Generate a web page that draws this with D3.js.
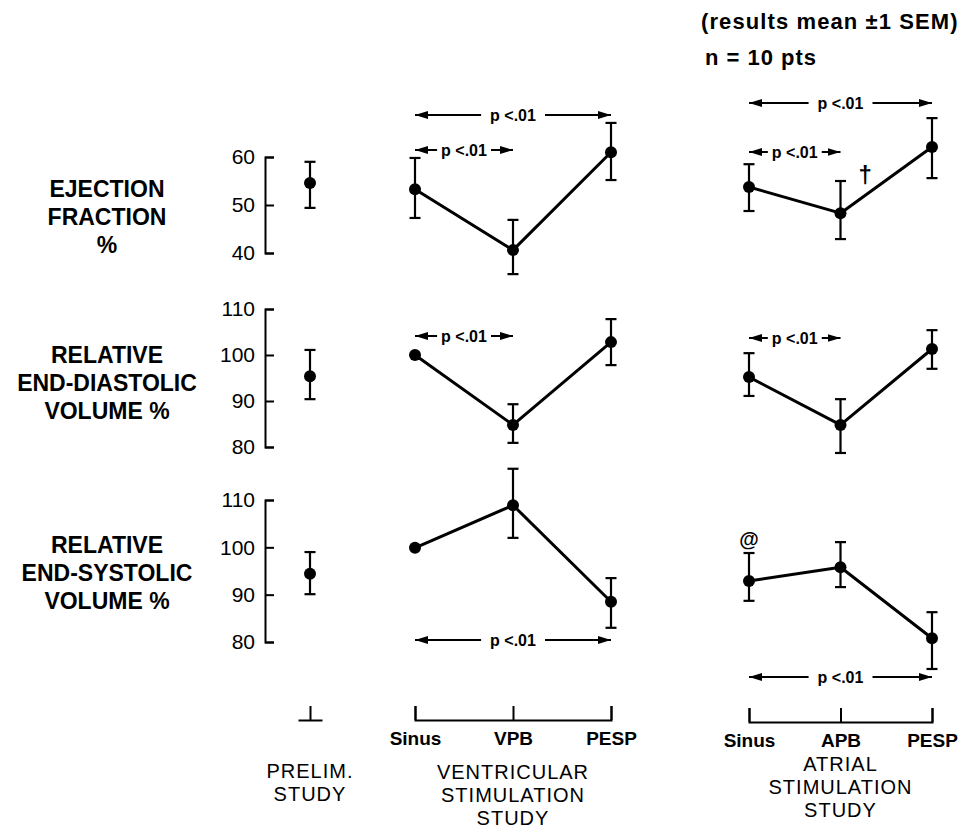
<!DOCTYPE html>
<html>
<head>
<meta charset="utf-8">
<script src="https://cdn.jsdelivr.net/npm/d3@7"></script>
<style>
body { margin: 0; background: #fff; }
svg { display: block; font-family: "Liberation Sans", Arial, sans-serif; }
</style>
</head>
<body>
<div id="chart"></div>
<script>
// values: mean and the two ends of the +-1 SEM bar
const rowLabels = [["EJECTION", "FRACTION", "%"], ["RELATIVE", "END-DIASTOLIC", "VOLUME %"], ["RELATIVE", "END-SYSTOLIC", "VOLUME %"]];
const rowTicks = [[40, 50, 60], [80, 90, 100, 110], [80, 90, 100, 110]];

const prelimMean = [54.6, 95.4, 94.4];
const prelimLow = [49.4, 90.4, 90.1];
const prelimHigh = [59.0, 101.1, 99.0];

const ventCats = ["Sinus", "VPB", "PESP"];
const ventMean = [[53.3, 40.6, 61.0], [100.0, 84.8, 102.8], [99.9, 108.9, 88.5]];
const ventLow = [[47.3, 35.6, 55.2], [null, 80.9, 97.8], [null, 102.0, 83.0]];
const ventHigh = [[59.8, 46.9, 67.1], [null, 89.3, 107.8], [null, 116.6, 93.5]];

const atrCats = ["Sinus", "APB", "PESP"];
const atrMean = [[53.75, 48.3, 62.1], [95.2, 84.8, 101.3], [92.9, 95.8, 80.8]];
const atrLow = [[48.75, 42.9, 55.6], [91.1, 78.7, 97.0], [88.7, 91.6, 74.3]];
const atrHigh = [[58.5, 55.0, 68.1], [100.4, 90.4, 105.4], [98.8, 101.1, 86.3]];

// significance arrows: [row, from, to]
const ventSig = [[0, "Sinus", "PESP"], [0, "Sinus", "VPB"], [1, "Sinus", "VPB"], [2, "Sinus", "PESP"]];
const atrSig = [[0, "Sinus", "PESP"], [0, "Sinus", "APB"], [1, "Sinus", "APB"], [2, "Sinus", "PESP"]];

// layout
const width = 963, height = 829;
const axisX = 265;
const rowDomain = [[40, 60], [80, 110], [80, 110]];
const rowRange = [[253, 157], [447, 309], [642, 500]];
const labelTop = [197, 363, 553];
const ventSigY = [115, 150, 336, 640];
const atrSigY = [103, 152, 338, 677];

let svg = d3.select("#chart")
    .append("svg")
    .attr("width", width)
    .attr("height", height);

// arrow head marker
svg.append("defs").append("marker")
    .attr("id", "head")
    .attr("viewBox", "0 0 13 8")
    .attr("refX", 13).attr("refY", 4)
    .attr("markerWidth", 13).attr("markerHeight", 8)
    .attr("markerUnits", "userSpaceOnUse")
    .attr("orient", "auto-start-reverse")
    .append("path").attr("d", "M0,0L13,4L0,8Z").attr("fill", "#000");

let yScales = rowDomain.map((d, i) => d3.scaleLinear().domain(d).range(rowRange[i]));

let xPrelim = d3.scalePoint().domain(["Prelim"]).range([298, 322]);
let xVent = d3.scalePoint().domain(ventCats).range([415, 611]);
let xAtr = d3.scalePoint().domain(atrCats).range([749, 932]);

// row titles on the left
rowLabels.forEach(function(lines, r) {
    let t = svg.append("text")
        .attr("text-anchor", "middle")
        .attr("font-size", 23)
        .attr("font-weight", "bold");
    lines.forEach(function(s, i) {
        t.append("tspan").attr("x", 107).attr("y", labelTop[r] + i * 28).text(s);
    });
});

// y axes
rowTicks.forEach(function(ticks, r) {
    let g = svg.append("g")
        .attr("transform", `translate(${axisX},0)`)
        .call(d3.axisLeft(yScales[r]).tickValues(ticks).tickSize(-9).tickPadding(10).tickFormat(d3.format("d")));
    g.selectAll("path, line").attr("stroke-width", 2);
    g.selectAll("text").attr("font-size", 21).attr("font-family", "Liberation Sans, Arial, sans-serif");
});

// bottom brackets
function bracket(scale, y, labels) {
    let ax = d3.axisBottom(scale).tickSizeInner(-14).tickPadding(12);
    ax.tickSizeOuter(labels ? -14 : 0);
    if (!labels) ax.tickFormat("");
    let g = svg.append("g").attr("transform", `translate(0,${y})`).call(ax);
    g.selectAll("path, line").attr("stroke-width", 2);
    g.selectAll("text").attr("font-size", 19).attr("font-weight", "bold")
        .attr("font-family", "Liberation Sans, Arial, sans-serif");
}
bracket(xPrelim, 720, false);
bracket(xVent, 720, true);
bracket(xAtr, 722, true);

// group titles
function groupTitle(x, y0, lines) {
    lines.forEach(function(s, i) {
        svg.append("text").attr("text-anchor", "middle").attr("font-size", 20)
            .attr("letter-spacing", 1)
            .attr("x", x).attr("y", y0 + i * 23).text(s);
    });
}
groupTitle(xPrelim("Prelim"), 778, ["PRELIM.", "STUDY"]);
groupTitle(xVent("VPB"), 779, ["VENTRICULAR", "STIMULATION", "STUDY"]);
groupTitle(xAtr("APB"), 771, ["ATRIAL", "STIMULATION", "STUDY"]);

// error bars and dots
function errBar(x, y, lo, hi) {
    if (lo == null) return;
    svg.append("line").attr("x1", x).attr("x2", x).attr("y1", y(lo)).attr("y2", y(hi))
        .attr("stroke", "#000").attr("stroke-width", 2.2);
    [lo, hi].forEach(function(v) {
        svg.append("line").attr("x1", x - 5.5).attr("x2", x + 5.5).attr("y1", y(v)).attr("y2", y(v))
            .attr("stroke", "#000").attr("stroke-width", 2.2);
    });
}
function dot(x, yv) {
    svg.append("circle").attr("cx", x).attr("cy", yv).attr("r", 6).attr("fill", "#000");
}

prelimMean.forEach(function(m, r) {
    let x = xPrelim("Prelim");
    errBar(x, yScales[r], prelimLow[r], prelimHigh[r]);
    dot(x, yScales[r](m));
});

function series(xs, cats, mean, low, high) {
    mean.forEach(function(vals, r) {
        let y = yScales[r];
        let line = d3.line().x((d, i) => xs(cats[i])).y(d => y(d));
        svg.append("path").attr("d", line(vals)).attr("fill", "none")
            .attr("stroke", "#000").attr("stroke-width", 3).attr("stroke-linejoin", "round");
        vals.forEach(function(v, i) {
            errBar(xs(cats[i]), y, low[r][i], high[r][i]);
            dot(xs(cats[i]), y(v));
        });
    });
}
series(xVent, ventCats, ventMean, ventLow, ventHigh);
series(xAtr, atrCats, atrMean, atrLow, atrHigh);

// p < .01 arrows
function sigArrows(xs, sig, ys) {
    sig.forEach(function(s, k) {
        let x1 = xs(s[1]), x2 = xs(s[2]), y = ys[k];
        svg.append("line").attr("x1", x1).attr("x2", x2).attr("y1", y).attr("y2", y)
            .attr("stroke", "#000").attr("stroke-width", 2)
            .attr("marker-start", "url(#head)").attr("marker-end", "url(#head)");
        let t = svg.append("text").attr("x", (x1 + x2) / 2).attr("y", y).attr("dy", "0.35em")
            .attr("text-anchor", "middle").attr("font-size", 16).attr("font-weight", "bold")
            .text("p <.01");
        let bb = t.node().getBBox();
        let pad = (x2 - x1) > 120 ? 9 : 4;
        svg.insert("rect", function() { return t.node(); })
            .attr("x", bb.x - pad).attr("y", bb.y).attr("width", bb.width + 2 * pad).attr("height", bb.height)
            .attr("fill", "#fff");
    });
}
sigArrows(xVent, ventSig, ventSigY);
sigArrows(xAtr, atrSig, atrSigY);

// other notes
svg.append("text").attr("x", xAtr("APB") + 18).attr("y", 183).attr("font-size", 24).attr("font-weight", "bold").text("†");
svg.append("text").attr("x", xAtr("Sinus")).attr("y", 546).attr("text-anchor", "middle")
    .attr("font-size", 20).attr("font-weight", "bold").text("@");

svg.append("text").attr("x", 701).attr("y", 29).attr("font-size", 22).attr("font-weight", "bold")
    .attr("letter-spacing", 1.1)
    .text("(results mean \u00b11 SEM)");
svg.append("text").attr("x", 705).attr("y", 65).attr("font-size", 22).attr("font-weight", "bold")
    .attr("letter-spacing", 1)
    .text("n = 10 pts");
</script>
</body>
</html>
